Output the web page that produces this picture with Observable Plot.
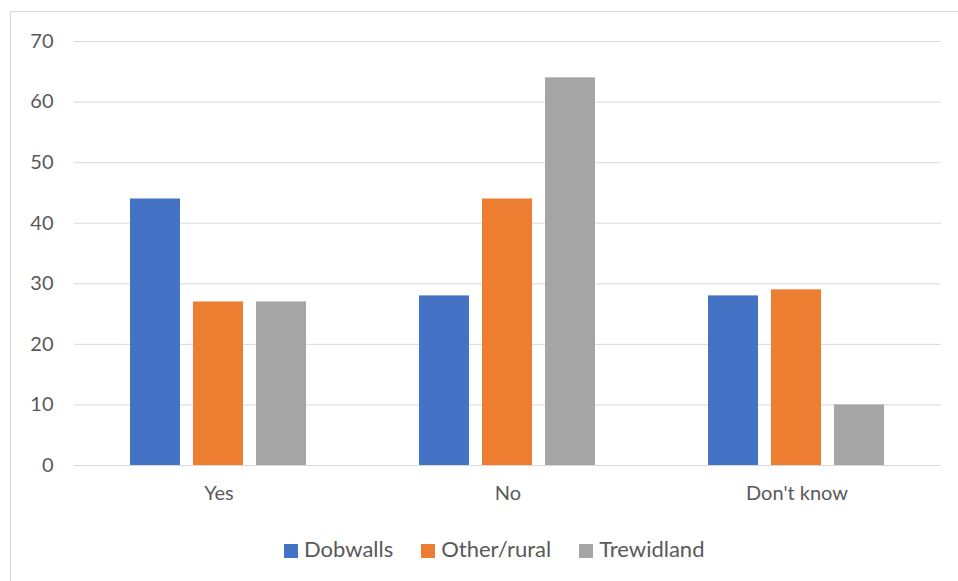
<!DOCTYPE html>
<html><head><meta charset="utf-8">
<script src="https://cdn.jsdelivr.net/npm/d3@7"></script>
<script src="https://cdn.jsdelivr.net/npm/@observablehq/plot@0.6"></script>
<style>
body{margin:0;background:#fff;font-family:Lato,"Open Sans",sans-serif;}
#wrap{position:relative;width:958px;height:581px;overflow:hidden;}
#frame{position:absolute;left:10px;top:11px;width:1000px;height:700px;border:1px solid #d9d9d9;box-sizing:border-box;}
#chart{position:absolute;left:0;top:0;}
#legend{position:absolute;left:284px;top:535px;display:flex;gap:28px;font-size:22px;line-height:28px;color:#595959;}
#legend span.sw{display:inline-block;width:14px;height:14px;margin-right:6px;vertical-align:-1px;}
</style></head>
<body><div id="wrap"><div id="frame"></div><div id="chart"></div><div id="legend"></div></div>
<script>
const categories = ["Yes", "No", "Don't know"];
const seriesNames = ["Dobwalls", "Other/rural", "Trewidland"];
const dobwalls = [44, 28, 28];
const otherRural = [27, 44, 29];
const trewidland = [27, 64, 10];
const yTicks = [0, 10, 20, 30, 40, 50, 60, 70];
const colors = ["#4472C4", "#ED7D31", "#A5A5A5"];

const seriesValues = [dobwalls, otherRural, trewidland];
const data = [];
categories.forEach((c, i) => seriesNames.forEach((s, j) => data.push({category: c, series: s, value: seriesValues[j][i]})));

const chart = Plot.plot({
  width: 958, height: 520,
  marginLeft: 73, marginRight: 17, marginTop: 41, marginBottom: 55,
  style: {fontFamily: "Lato, 'Open Sans', sans-serif", fontSize: "20px", color: "#595959", background: "transparent"},
  fx: {domain: categories, padding: 0, label: null, tickSize: 0, tickPadding: 20, axis: "bottom"},
  x: {domain: seriesNames, axis: null, paddingInner: 0.2, paddingOuter: 0.86},
  y: {domain: [0, 70], ticks: yTicks, tickSize: 0, tickPadding: 21, label: null},
  color: {domain: seriesNames, range: colors},
  marks: [
    Plot.ruleY(yTicks, {stroke: "#d9d9d9", strokeWidth: 1}),
    Plot.barY(data, {fx: "category", x: "series", y: "value", fill: "series"})
  ]
});
document.getElementById("chart").appendChild(chart);

const legend = document.getElementById("legend");
seriesNames.forEach((s, i) => {
  const d = document.createElement("div");
  d.innerHTML = `<span class="sw" style="background:${colors[i]}"></span>${s}`;
  legend.appendChild(d);
});
</script></body></html>
